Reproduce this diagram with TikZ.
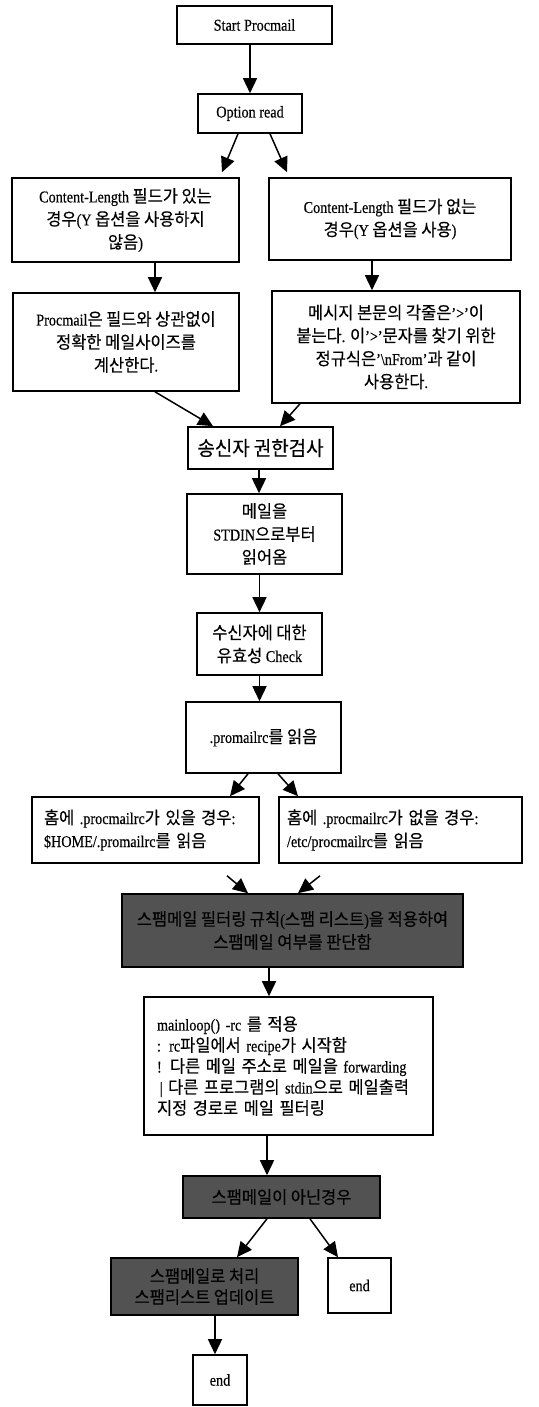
\documentclass[tikz,border=0pt]{standalone}
\usepackage{fontspec}
\setmainfont{Liberation Serif}[FakeStretch=0.86,FakeBold=0.4]
\newfontfamily\krfont{Noto Sans CJK KR}[FakeStretch=0.95,Scale=1.05,FakeBold=0.3]
\usetikzlibrary{arrows.meta,calc}
% automatic switch to the Korean font for Hangul syllables
\XeTeXinterchartokenstate=1
\chardef\krclass=20
\makeatletter
\count@="AC00
\loop\ifnum\count@<"D7A4
  \XeTeXcharclass\count@=\krclass
  \advance\count@\@ne
\repeat
\makeatother
\XeTeXinterchartoks 0 \krclass = {\begingroup\krfont}
\XeTeXinterchartoks 1 \krclass = {\begingroup\krfont}
\XeTeXinterchartoks 2 \krclass = {\begingroup\krfont}
\XeTeXinterchartoks 3 \krclass = {\begingroup\krfont}
\XeTeXinterchartoks 4095 \krclass = {\begingroup\krfont}
\XeTeXinterchartoks \krclass 0 = {\endgroup}
\XeTeXinterchartoks \krclass 1 = {\endgroup}
\XeTeXinterchartoks \krclass 2 = {\endgroup}
\XeTeXinterchartoks \krclass 3 = {\endgroup}
\XeTeXinterchartoks \krclass 4095 = {\endgroup}
\tikzset{
  box/.style={draw, line width=1.6pt, inner sep=0pt, align=center,
    font=\fontsize{16.5}{23}\selectfont},
  graybox/.style={box, fill=black!68, text=black},
  arr/.style={line width=1.5pt, -{Triangle[length=15pt,width=14pt]}},
}
\begin{document}
\begin{tikzpicture}[x=1pt,y=-1pt]
\useasboundingbox (0,0) rectangle (538,1407);

\node[box, minimum width=155, minimum height=38] (start) at (254.5,25) {Start Procmail};
\node[box, minimum width=104, minimum height=39] (opt) at (250,113.5) {Option read};
\node[box, minimum width=227, minimum height=84] (cl1) at (125.5,220)
  {Content-Length 필드가 있는\\경우(Y 옵션을 사용하지\\않음)};
\node[box, minimum width=242, minimum height=82] (cl2) at (390,219)
  {Content-Length 필드가 없는\\경우(Y 옵션을 사용)};
\node[box, minimum width=226, minimum height=98] (pm) at (126,342)
  {Procmail은 필드와 상관없이\\정확한 메일사이즈를\\계산한다.};
\node[box, minimum width=248, minimum height=112] (msg) at (396,347)
  {메시지 본문의 각줄은'>'이\\붙는다. 이'>'문자를 찾기 위한\\정규식은'\textbackslash nFrom'과 같이\\사용한다.};
\node[box, minimum width=145, minimum height=42, font=\fontsize{19}{23}\selectfont] (auth) at (260.5,448)
  {송신자 권한검사};
\node[box, minimum width=155, minimum height=80] (stdin) at (264.5,534)
  {메일을\\STDIN으로부터\\읽어옴};
\node[box, minimum width=125, minimum height=62] (recv) at (259.5,644)
  {수신자에 대한\\유효성 Check};
\node[box, minimum width=155, minimum height=71] (rc) at (263.5,737.5)
  {.promailrc를 읽음};
\node[box, align=left, inner xsep=12pt, text width=203pt, minimum height=66] (home1) at (145.5,830)
  {홈에 .procmailrc가 있을 경우:\\\$HOME/.promailrc를 읽음};
\node[box, align=left, inner xsep=8pt, text width=227pt, minimum height=66] (home2) at (400.5,830)
  {홈에 .procmailrc가 없을 경우:\\/etc/procmailrc를 읽음};
\node[graybox, minimum width=341, minimum height=73] (gray1) at (292.5,930.5)
  {스팸메일 필터링 규칙(스팸 리스트)을 적용하여\\스팸메일 여부를 판단함};
\node[box, align=left, inner xsep=13pt, text width=263pt, minimum height=138,
  font=\fontsize{16.5}{21}\selectfont] (main) at (288.5,1066)
  {mainloop() -rc 를 적용\\: rc파일에서 recipe가 시작함\\! 다른 메일 주소로 메일을 forwarding\\\,| 다른 프로그램의 stdin으로 메일출력\\지정 경로로 메일 필터링};
\node[graybox, minimum width=197, minimum height=42] (gray2) at (281.5,1197)
  {스팸메일이 아닌경우};
\node[graybox, minimum width=187, minimum height=57, font=\fontsize{16.5}{21}\selectfont] (gray3) at (204.5,1286.5)
  {스팸메일로 처리\\스팸리스트 업데이트};
\node[box, minimum width=63, minimum height=55] (end1) at (359.5,1285.5) {end};
\node[box, minimum width=54, minimum height=50] (end2) at (220,1380) {end};

% connectors
\draw[arr] (start.south -| opt.north) -- (opt.north);
\draw[arr] ($(opt.south)+(-12,0)$) -- ($(cl1.north)+(96.5,-5)$);
\draw[arr] ($(opt.south)+(20,0)$) -- ($(cl2.north)+(-103,-5)$);
\coordinate (a1) at ($(pm.north)+(29,0)$);
\draw[arr] (a1 |- cl1.south) -- (a1);
\coordinate (a2) at ($(msg.north)+(-24,0)$);
\draw[arr] (a2 |- cl2.south) -- (a2);
\draw[arr] ($(pm.south)+(29,0)$) -- ($(auth.north)+(-47.5,0)$);
\draw[arr] ($(msg.south)+(-96,0)$) -- ($(auth.north)+(19.5,0)$);
\coordinate (a3) at ($(auth.south)+(-1.5,0)$);
\draw[arr] (a3) -- (a3 |- stdin.north);
\draw[arr] (recv.north |- stdin.south) -- (recv.north);
\draw[arr] (recv.south) -- (recv.south |- rc.north);
\draw[arr] ($(rc.south)+(-15.5,0)$) -- ($(home1.north)+(84.5,0)$);
\draw[arr] ($(rc.south)+(14.5,0)$) -- ($(home2.north)+(-102.5,0)$);
\draw[arr] ($(home1.south)+(81.5,12)$) -- ($(gray1.north)+(-44.5,0)$);
\draw[arr] ($(home2.south)+(-80.5,12)$) -- ($(gray1.north)+(5.5,0)$);
\coordinate (a4) at ($(main.north)+(-19.5,0)$);
\draw[arr] (a4 |- gray1.south) -- (a4);
\coordinate (a5) at ($(main.south)+(-21.5,0)$);
\draw[arr] (a5) -- (a5 |- gray2.north);
\draw[arr] ($(gray2.south)+(-14.5,0)$) -- ($(gray3.north)+(32.5,0)$);
\draw[arr] ($(gray2.south)+(28.5,0)$) -- ($(end1.north)+(-21.5,0)$);
\coordinate (a6) at ($(gray3.south)+(10.5,0)$);
\draw[arr] (a6) -- (a6 |- end2.north);
\end{tikzpicture}
\end{document}
